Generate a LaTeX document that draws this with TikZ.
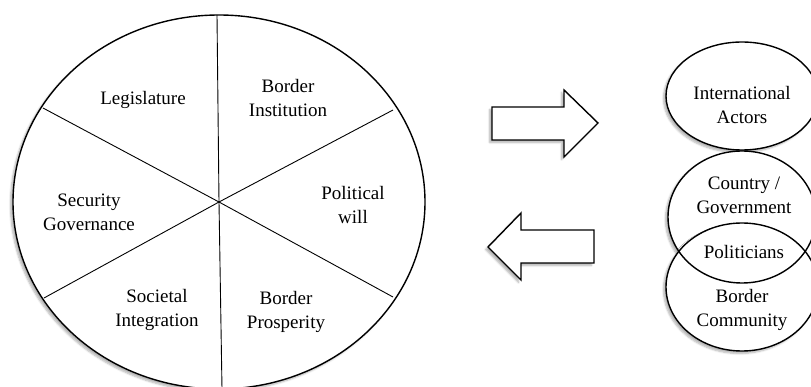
\documentclass[tikz,border=0pt]{standalone}
\usepackage{fontspec}
\setmainfont{Liberation Serif}
\usetikzlibrary{shapes.geometric, shadows.blur, positioning}

\begin{document}
\begin{tikzpicture}[x=1pt,y=-1pt]

	\tikzset{
		sector text/.style={align=center, inner sep=0pt,
			font=\fontsize{19}{24}\selectfont},
		soft shadow/.style={blur shadow={shadow xshift=-2.5pt, shadow yshift=-2.5pt,
			shadow blur steps=6, shadow opacity=30}},
		spoke/.style={line width=0.9pt},
		rim/.style={line width=1.4pt},
		arrowbox/.style={rim, fill=white, soft shadow, line join=miter}
	}

	\useasboundingbox (0,0) rectangle (811,387);

	% wheel
	\draw[rim, fill=white, soft shadow] (219,202) ellipse [x radius=206, y radius=187];
	\coordinate (hub) at (219,202);
	\coordinate (n) at (217,15);
	\coordinate (s) at (222,389);
	\coordinate (nw) at (43,108);
	\coordinate (se) at (393,297);
	\coordinate (ne) at (393,110);
	\coordinate (sw) at (44,298);
	\draw[spoke] (n) -- (hub) -- (s);
	\draw[spoke] (nw) -- (hub) -- (se);
	\draw[spoke] (ne) -- (hub) -- (sw);

	\node[sector text] (legis) at (143,100) {Legislature};
	\node[sector text] (binst) at (288,98) {Border\\Institution};
	\node[sector text] (polwill) at (353,205) {Political\\will};
	\node[sector text] (secgov) at (89,212) {Security\\Governance};
	\node[sector text] (socint) at (157,310) {Societal\\Integration};
	\node[sector text] (bprosp) at (286,312) {Border\\Prosperity};

	% block arrows
	\draw[arrowbox] (492,107) -- (564,107) -- (564,90) -- (598,123)
		-- (564,157) -- (564,140) -- (492,140) -- cycle;
	\draw[arrowbox] (488,247) -- (521,213) -- (521,230) -- (594,230)
		-- (594,263) -- (521,263) -- (521,280) -- cycle;

	% actors
	\foreach \cx/\cy/\rx/\ry in {742/96/76/54, 742/217/74/66, 742/287/76/64}
		\path[fill=white, soft shadow] (\cx,\cy) ellipse [x radius=\rx, y radius=\ry];
	\foreach \cx/\cy/\rx/\ry in {742/96/76/54, 742/217/74/66, 742/287/76/64}
		\draw[rim] (\cx,\cy) ellipse [x radius=\rx, y radius=\ry];

	\node[sector text] (intl) at (742,105) {International\\Actors};
	\node[sector text] (cgov) at (744,195) {Country /\\Government};
	\node[sector text] (polit) at (744,252) {Politicians};
	\node[sector text] (bcomm) at (742,310) {Border\\Community};

\end{tikzpicture}
\end{document}
